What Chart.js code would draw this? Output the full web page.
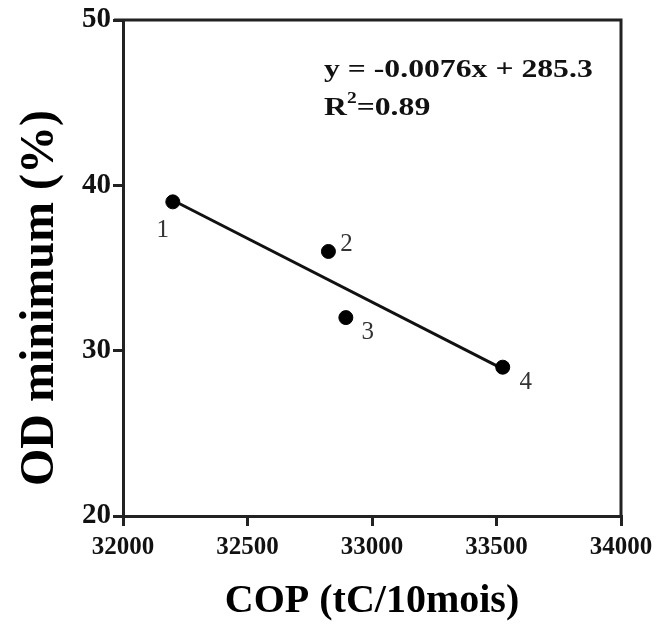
<!DOCTYPE html>
<html lang="fr">
<head>
<meta charset="UTF-8">
<title>OD minimum vs COP</title>
<script src="https://cdn.jsdelivr.net/npm/chart.js"></script>
<style>
  html, body { margin: 0; padding: 0; background: #fff; }
  #wrap { width: 670px; height: 630px; }
</style>
</head>
<body>
<div id="wrap"><canvas id="myChart" width="670" height="630"></canvas></div>
<script>
// data
const cop = [32200, 32825, 32895, 33525];      // COP (tC/10mois)
const odMin = [39, 36, 32, 29];                 // OD minimum (%)
const pointNames = ['1', '2', '3', '4'];
const trendX = [32200, 33525];                  // ends of the fitted line
const trendY = [39.1, 28.9];
const xTicks = [32000, 32500, 33000, 33500, 34000];
const yTicks = [20, 30, 40, 50];

const ink = '#222';
const serif = "'Liberation Serif', 'Times New Roman', serif";

// where each number sits next to its point (px)
const nameOffset = [[-10, 29], [18, -7], [22, 15], [23, 15]];

// text in the figure is a little wide, so stretch it sideways
function wideText(ctx, str, x, y, stretch) {
    ctx.save();
    ctx.translate(x, y);
    ctx.scale(stretch, 1);
    ctx.fillText(str, 0, 0);
    const w = ctx.measureText(str).width * stretch;
    ctx.restore();
    return w;
}

const boxAndLabels = {
    id: 'boxAndLabels',
    afterDatasetsDraw(chart) {
        const { ctx, chartArea: a, scales } = chart;
        ctx.save();
        // top and right border of the frame
        ctx.strokeStyle = ink;
        ctx.lineWidth = 3;
        ctx.beginPath();
        ctx.moveTo(a.left - 9, a.top);
        ctx.lineTo(a.right, a.top);
        ctx.lineTo(a.right, a.bottom);
        ctx.stroke();

        ctx.fillStyle = '#333';
        ctx.font = '25px ' + serif;
        ctx.textAlign = 'center';
        ctx.textBaseline = 'middle';
        for (let i = 0; i < cop.length; i++) {
            const px = scales.x.getPixelForValue(cop[i]);
            const py = scales.y.getPixelForValue(odMin[i]);
            ctx.fillText(pointNames[i], px + nameOffset[i][0], py + nameOffset[i][1]);
        }

        // regression equation
        const ex = a.left + 201;
        const st = 1.22;
        ctx.fillStyle = '#111';
        ctx.textAlign = 'left';
        ctx.font = 'bold 26px ' + serif;
        wideText(ctx, 'y = -0.0076x + 285.3', ex, a.top + 50, st);
        const rw = wideText(ctx, 'R', ex, a.top + 88, st);
        ctx.font = 'bold 16px ' + serif;
        const sw = wideText(ctx, '2', ex + rw, a.top + 79, st);
        ctx.font = 'bold 26px ' + serif;
        wideText(ctx, '=0.89', ex + rw + sw, a.top + 88, st);
        ctx.restore();
    }
};

const ctx = document.getElementById('myChart').getContext('2d');

new Chart(ctx, {
    type: 'scatter',
    data: {
        datasets: [
            {
                label: 'COP',
                data: cop.map((x, i) => ({ x: x, y: odMin[i] })),
                backgroundColor: '#000',
                borderColor: '#000',
                pointRadius: 7,
                pointHoverRadius: 7
            },
            {
                label: 'tendance',
                type: 'line',
                data: trendX.map((x, i) => ({ x: x, y: trendY[i] })),
                borderColor: '#111',
                borderWidth: 3,
                pointRadius: 0,
                fill: false
            }
        ]
    },
    options: {
        responsive: false,
        animation: false,
        layout: { padding: { top: 20, right: 49, left: 0, bottom: 0 } },
        plugins: {
            legend: { display: false },
            tooltip: { enabled: false }
        },
        scales: {
            x: {
                type: 'linear',
                min: 32000,
                max: 34000,
                afterFit(scale) { scale.height = 114; },
                afterBuildTicks(scale) { scale.ticks = xTicks.map(v => ({ value: v })); },
                border: { display: true, color: ink, width: 3 },
                grid: { drawOnChartArea: false, drawTicks: true, tickLength: 10, color: ink, lineWidth: 3 },
                ticks: {
                    color: '#111',
                    padding: 7,
                    maxRotation: 0,
                    callback: v => String(v),
                    font: { family: serif, size: 25, weight: 'bold' }
                },
                title: {
                    display: true,
                    text: 'COP (tC/10mois)',
                    color: '#000',
                    padding: { top: 2 },
                    font: { family: serif, size: 40, weight: 'bold' }
                }
            },
            y: {
                type: 'linear',
                min: 20,
                max: 50,
                afterFit(scale) { scale.width = 123; },
                afterBuildTicks(scale) { scale.ticks = yTicks.map(v => ({ value: v })); },
                border: { display: true, color: ink, width: 3 },
                grid: { drawOnChartArea: false, drawTicks: true, tickLength: 10, color: ink, lineWidth: 3 },
                ticks: {
                    color: '#111',
                    padding: 2,
                    callback: v => String(v),
                    font: { family: serif, size: 29, weight: 'bold' }
                },
                title: {
                    display: true,
                    text: 'OD minimum (%)     ',
                    color: '#000',
                    padding: { top: 12 },
                    font: { family: serif, size: 48, weight: 'bold' }
                }
            }
        }
    },
    plugins: [boxAndLabels]
});
</script>
</body>
</html>
